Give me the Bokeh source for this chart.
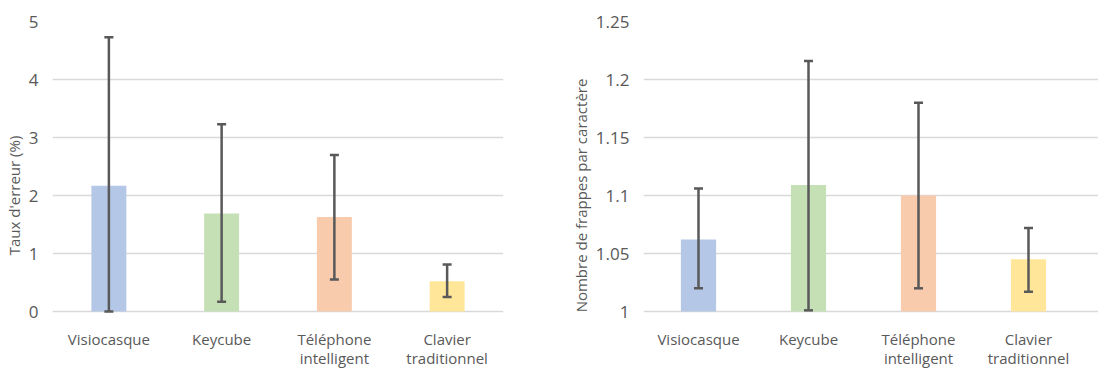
from bokeh.plotting import figure
from bokeh.models import ColumnDataSource, Range1d, Whisker, TeeHead, FixedTicker
from bokeh.layouts import row
from bokeh.embed import file_html
from bokeh.resources import INLINE

categories = ["Visiocasque", "Keycube", "Téléphone intelligent", "Clavier traditionnel"]
tick_labels = ["Visiocasque", "Keycube", "Téléphone\nintelligent", "Clavier\ntraditionnel"]
colors = ["#b4c7e7", "#c5e0b4", "#f8cbad", "#ffe699"]

error_rate = [2.17, 1.69, 1.63, 0.52]
error_rate_low = [0.0, 0.17, 0.55, 0.25]
error_rate_high = [4.73, 3.23, 2.70, 0.81]

kspc = [1.062, 1.109, 1.100, 1.045]
kspc_low = [1.020, 1.001, 1.020, 1.017]
kspc_high = [1.106, 1.216, 1.180, 1.072]

FONT = "Open Sans"
TXT = "#595959"
GRID = "#d9d9d9"

H = 369           # figure height
TOP = 21          # top border
PLOT_H = 290      # pixel height of the value range (top gridline to baseline)


def make(values, low, high, y0, y1, yticks, ylabel, width, border_left, border_right, x_end, bar_w):
    xs = [i + 0.5 for i in range(len(categories))]
    # extend the frame below the baseline so the category labels can sit inside it
    frame_h = H - TOP
    y_start = y1 - (y1 - y0) * frame_h / PLOT_H
    src = ColumnDataSource(dict(x=xs, top=values, lower=low, upper=high, color=colors,
                                base=[y0] * len(xs), label=tick_labels))
    p = figure(width=width, height=H, output_backend="svg", toolbar_location=None,
               x_range=Range1d(0, x_end), y_range=Range1d(y_start, y1),
               min_border_left=border_left, min_border_right=border_right,
               min_border_top=TOP, min_border_bottom=0)
    p.outline_line_color = None
    p.vbar(x="x", top="top", bottom=y0, width=bar_w, fill_color="color", line_color=None, source=src)
    w = Whisker(base="x", lower="lower", upper="upper", source=src, line_color="#595959", line_width=2.5,
                level="overlay",
                upper_head=TeeHead(size=9, line_color="#595959", line_width=2.5),
                lower_head=TeeHead(size=9, line_color="#595959", line_width=2.5))
    p.add_layout(w)

    p.text(x="x", y="base", text="label", source=src, y_offset=17,
           text_align="center", text_baseline="top",
           text_font={"value": FONT}, text_font_size="15px", text_color=TXT,
           text_line_height=0.95)

    p.xaxis.visible = False
    p.xgrid.grid_line_color = None

    p.yaxis.ticker = FixedTicker(ticks=yticks)
    p.yaxis.major_label_overrides = {t: ("%g" % t) for t in yticks}
    p.yaxis.axis_line_color = None
    p.yaxis.major_tick_line_color = None
    p.yaxis.minor_tick_line_color = None
    p.yaxis.major_label_text_font = FONT
    p.yaxis.major_label_text_font_size = "17px"
    p.yaxis.major_label_text_color = TXT
    p.yaxis.major_label_standoff = 8
    p.yaxis.axis_label = ylabel
    p.yaxis.axis_label_text_font = FONT
    p.yaxis.axis_label_text_font_size = "15px"
    p.yaxis.axis_label_text_font_style = "normal"
    p.yaxis.axis_label_text_color = TXT
    p.yaxis.axis_label_standoff = 2
    p.ygrid.grid_line_color = GRID
    p.ygrid.grid_line_width = 1.5
    return p


p1 = make(error_rate, error_rate_low, error_rate_high, 0, 5, [0, 1, 2, 3, 4, 5],
          "Taux d'erreur (%)", 552, 52, 49, 4.0, 0.31)
p2 = make(kspc, kspc_low, kspc_high, 1.0, 1.25, [1.0, 1.05, 1.1, 1.15, 1.2, 1.25],
          "Nombre de frappes par caractère", 546, 91, 0, 455 / 110, 0.32)

layout = row(p1, p2)
open("out.html", "w").write(file_html(layout, INLINE))
